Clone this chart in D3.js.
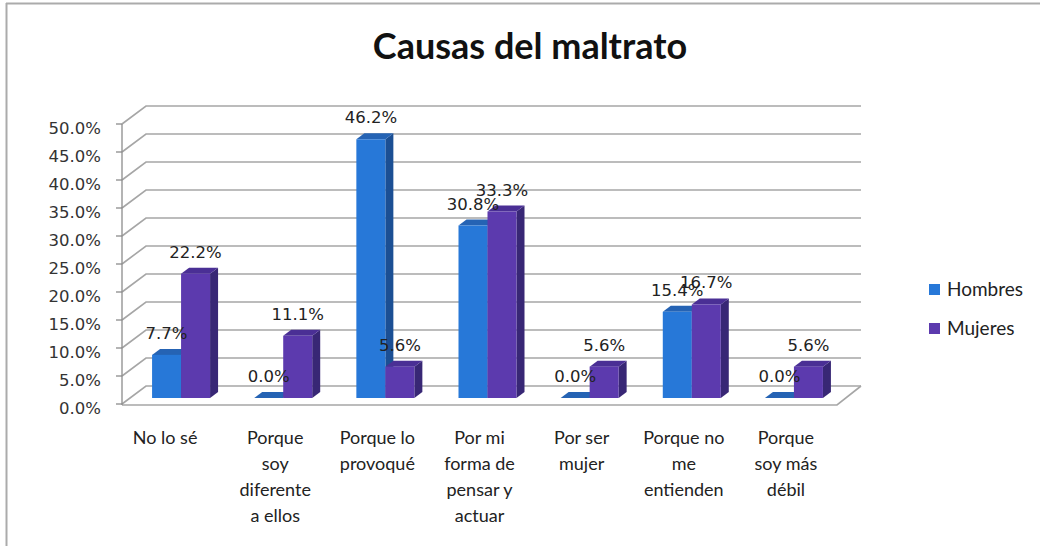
<!DOCTYPE html>
<html><head><meta charset="utf-8">
<script src="https://cdn.jsdelivr.net/npm/d3@7"></script>
<style>body{margin:0;background:#fff}svg{display:block}</style>
</head><body>
<svg id="c" width="1040" height="546"></svg>
<script>
const categories = [
  ["No lo sé"],
  ["Porque","soy","diferente","a ellos"],
  ["Porque lo","provoqué"],
  ["Por mi","forma de","pensar y","actuar"],
  ["Por ser","mujer"],
  ["Porque no","me","entienden"],
  ["Porque","soy más","débil"]
];
const hombres = [7.7, 0.0, 46.2, 30.8, 0.0, 15.4, 0.0];
const mujeres = [22.2, 11.1, 5.6, 33.3, 5.6, 16.7, 5.6];
const seriesNames = ["Hombres", "Mujeres"];
const yTicks = [0,5,10,15,20,25,30,35,40,45,50];

const svg = d3.select("#c");
const X0 = 122, X1 = 837, DX = 24, DY = -18;
const x = d3.scaleBand().domain(d3.range(categories.length)).range([X0, X1]);
const y = d3.scaleLinear().domain([0, 50]).range([404, 124]);
const colors = [
  {front:"#2778d8", side:"#1b4f94", top:"#2563b4"},
  {front:"#5c3aae", side:"#382775", top:"#4a2f95"}
];

// frame
svg.append("line").attr("x1",6).attr("x2",1040).attr("y1",3.5).attr("y2",3.5).attr("stroke","#ababab").attr("stroke-width",2);
svg.append("line").attr("x1",6.5).attr("x2",6.5).attr("y1",3).attr("y2",546).attr("stroke","#ababab").attr("stroke-width",2);

// title
svg.append("text").attr("x",530).attr("y",59).attr("text-anchor","middle")
  .attr("font-family","Lato, 'Open Sans', sans-serif").attr("font-weight","bold").attr("font-size",36)
  .attr("fill","#111").text("Causas del maltrato");

const grid = svg.append("g").attr("stroke","#a6a6a6").attr("stroke-width",1.6).attr("fill","none");
// floor
grid.append("path").attr("d", `M${X0},${y(0)+1}L${X1},${y(0)+1}L${X1+DX},${y(0)+DY}`);
yTicks.forEach(t => {
  grid.append("path").attr("d", `M${X0},${y(t)}L${X0+DX},${y(t)+DY}L${X1+DX},${y(t)+DY}`);
});
// axis
const ax = svg.append("g").attr("stroke","#8c8c8c").attr("stroke-width",1.3);
ax.append("line").attr("x1",X0).attr("x2",X0).attr("y1",y(50)).attr("y2",y(0)+1);
yTicks.forEach(t => ax.append("line").attr("x1",X0-6).attr("x2",X0).attr("y1",y(t)).attr("y2",y(t)));

svg.append("g").selectAll("text").data(yTicks).join("text")
  .attr("x",101).attr("y",d=>y(d)+9.5).attr("text-anchor","end")
  .attr("font-family","'DejaVu Sans', sans-serif").attr("font-size",16.5).attr("fill","#333")
  .text(d=>d.toFixed(1)+"%");

// bars
const BW = 29, BDX = 8, BDY = -6, base = y(0) - 6;
const bars = svg.append("g");
const labels = svg.append("g");
[hombres, mujeres].forEach((vals, s) => {
  vals.forEach((v, i) => {
    const cx = x(i) + x.bandwidth()/2 + 8;
    const xl = cx - BW + s*BW, xr = xl + BW;
    const yt = y(v) - 6;
    const c = colors[s];
    const g = bars.append("g");
    g.append("path").attr("fill",c.side).attr("d",`M${xr},${base}L${xr+BDX},${base+BDY}L${xr+BDX},${yt+BDY}L${xr},${yt}Z`);
    g.append("path").attr("fill",c.top).attr("d",`M${xl},${yt}L${xl+BDX},${yt+BDY}L${xr+BDX},${yt+BDY}L${xr},${yt}Z`);
    if (base - yt > 0.5) g.append("rect").attr("x",xl).attr("y",yt).attr("width",BW).attr("height",base-yt).attr("fill",c.front);
    labels.append("text").attr("x",(xl+xr)/2).attr("y",yt-16).attr("text-anchor","middle")
      .attr("font-family","'DejaVu Sans', sans-serif").attr("font-size",16.5).attr("fill","#222")
      .text(v.toFixed(1)+"%");
  });
});

// category labels
const cl = svg.append("g").attr("font-family","Lato, sans-serif").attr("font-size",18).attr("fill","#222");
categories.forEach((lines, i) => {
  const t = cl.append("text").attr("text-anchor","middle");
  lines.forEach((ln, k) => t.append("tspan").attr("x", x(i)+x.bandwidth()/2 - (i===0?8:0)).attr("y", 444 + k*26).text(ln));
});

// legend
const lg = svg.append("g");
seriesNames.forEach((n, k) => {
  lg.append("rect").attr("x",929).attr("y",284+k*39).attr("width",11).attr("height",11).attr("fill",colors[k].front);
  lg.append("text").attr("x",947).attr("y",296+k*39).attr("font-family","Lato, sans-serif").attr("font-size",19).attr("fill","#222").text(n);
});
</script>
</body></html>
